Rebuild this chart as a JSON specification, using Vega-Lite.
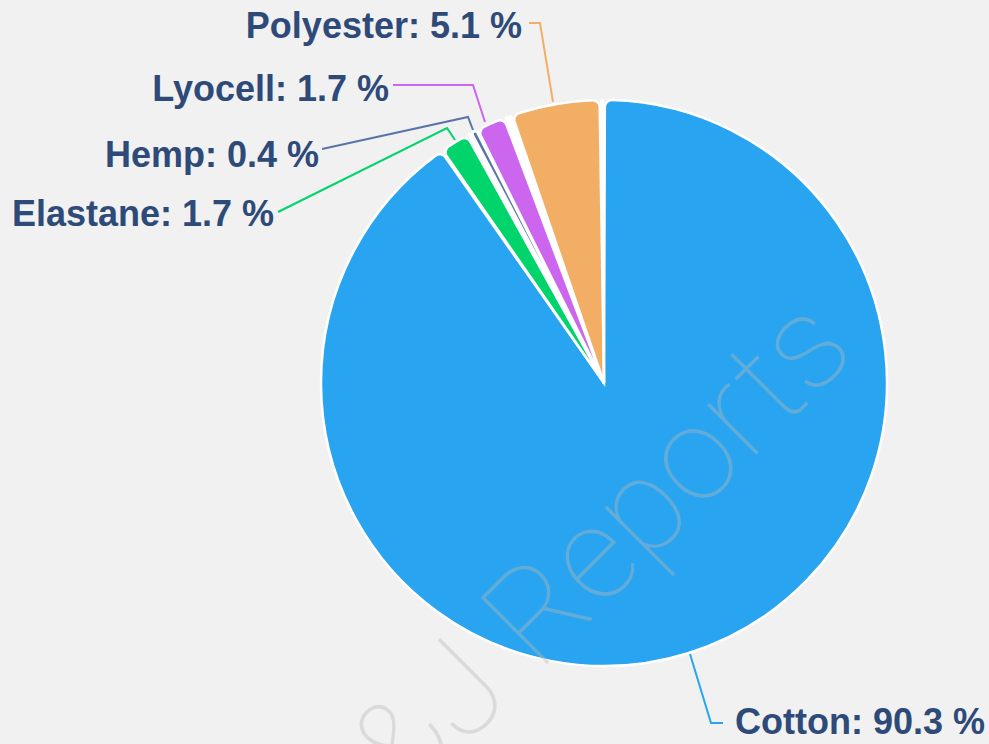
{
  "$schema": "https://vega.github.io/schema/vega-lite/v6.json",
  "width": 989,
  "height": 744,
  "autosize": "none",
  "padding": 0,
  "background": "#f1f1f2",
  "config": {"view": {"stroke": null}},
  "datasets": {
    "slices": [
      {"k": 1, "fibre": "Cotton", "share": 90.3},
      {"k": 2, "fibre": "Elastane", "share": 1.7},
      {"k": 3, "fibre": "Other A", "share": 0.2},
      {"k": 4, "fibre": "Hemp", "share": 0.4},
      {"k": 5, "fibre": "Lyocell", "share": 1.7},
      {"k": 6, "fibre": "Other B", "share": 0.2},
      {"k": 7, "fibre": "Other C", "share": 0.2},
      {"k": 8, "fibre": "Polyester", "share": 5.1},
      {"k": 9, "fibre": "Other D", "share": 0.2}
    ],
    "labels": [
      {"fibre": "Polyester", "text": "Polyester: 5.1 %", "side": "left", "lx": -82, "ly": 345},
      {"fibre": "Lyocell", "text": "Lyocell: 1.7 %", "side": "left", "lx": -215, "ly": 282},
      {"fibre": "Hemp", "text": "Hemp: 0.4 %", "side": "left", "lx": -285, "ly": 216},
      {"fibre": "Elastane", "text": "Elastane: 1.7 %", "side": "left", "lx": -330, "ly": 157},
      {"fibre": "Cotton", "text": "Cotton: 90.3 %", "side": "right", "lx": 131, "ly": -351}
    ],
    "leaders": [
      {"fibre": "Polyester", "seq": 1, "px": -75, "py": 360},
      {"fibre": "Polyester", "seq": 2, "px": -64, "py": 360},
      {"fibre": "Polyester", "seq": 3, "px": -51, "py": 281},
      {"fibre": "Lyocell", "seq": 1, "px": -211, "py": 298},
      {"fibre": "Lyocell", "seq": 2, "px": -131, "py": 298},
      {"fibre": "Lyocell", "seq": 3, "px": -119, "py": 261},
      {"fibre": "Hemp", "seq": 1, "px": -282, "py": 234},
      {"fibre": "Hemp", "seq": 2, "px": -136, "py": 266},
      {"fibre": "Hemp", "seq": 3, "px": -131, "py": 253},
      {"fibre": "Elastane", "seq": 1, "px": -326, "py": 171},
      {"fibre": "Elastane", "seq": 2, "px": -157, "py": 255},
      {"fibre": "Elastane", "seq": 3, "px": -149, "py": 243},
      {"fibre": "Cotton", "seq": 1, "px": 86, "py": -271},
      {"fibre": "Cotton", "seq": 2, "px": 107, "py": -340},
      {"fibre": "Cotton", "seq": 3, "px": 119, "py": -340}
    ],
    "mark": [
      {"text": "Q&J Reports", "wx": 254, "wy": 30}
    ]
  },
  "layer": [
    {
      "data": {"name": "slices"},
      "mark": {"type": "arc", "outerRadius": 283, "cornerRadius": 7, "padAngle": 0.006, "stroke": "#ffffff", "strokeWidth": 2.5},
      "encoding": {
        "theta": {"field": "share", "type": "quantitative", "stack": true},
        "order": {"field": "k", "type": "quantitative"},
        "color": {
          "field": "fibre",
          "type": "nominal",
          "scale": {
            "domain": ["Cotton", "Elastane", "Other A", "Hemp", "Lyocell", "Other B", "Other C", "Polyester", "Other D"],
            "range": ["#29a4f0", "#00d46a", "#ff6a3d", "#5b74a8", "#cd66ee", "#f7a1ae", "#80dccd", "#f3ae66", "#80dccd"]
          },
          "legend": null
        },
        "x": {"datum": 0, "type": "quantitative", "scale": {"domain": [-604, 385], "nice": false, "zero": false}, "axis": null},
        "y": {"datum": 0, "type": "quantitative", "scale": {"domain": [-361, 383], "nice": false, "zero": false}, "axis": null}
      }
    },
    {
      "data": {"name": "mark"},
      "mark": {"type": "text", "font": "Roboto", "fontWeight": 100, "fontSize": 132, "angle": -45, "align": "right", "baseline": "alphabetic", "fill": "#b8b8b8", "opacity": 0.4},
      "encoding": {
        "text": {"field": "text"},
        "x": {"field": "wx", "type": "quantitative"},
        "y": {"field": "wy", "type": "quantitative"}
      }
    },
    {
      "data": {"name": "leaders"},
      "mark": {"type": "line", "strokeWidth": 2, "interpolate": "linear"},
      "encoding": {
        "x": {"field": "px", "type": "quantitative"},
        "y": {"field": "py", "type": "quantitative"},
        "color": {"field": "fibre", "type": "nominal", "legend": null},
        "order": {"field": "seq", "type": "quantitative"}
      }
    },
    {
      "data": {"name": "labels"},
      "transform": [{"filter": "datum.side == 'left'"}],
      "mark": {"type": "text", "font": "Liberation Sans", "fontWeight": "bold", "fontSize": 36, "align": "right", "baseline": "alphabetic", "fill": "#2e4a78"},
      "encoding": {
        "text": {"field": "text"},
        "x": {"field": "lx", "type": "quantitative"},
        "y": {"field": "ly", "type": "quantitative"}
      }
    },
    {
      "data": {"name": "labels"},
      "transform": [{"filter": "datum.side == 'right'"}],
      "mark": {"type": "text", "font": "Liberation Sans", "fontWeight": "bold", "fontSize": 36, "align": "left", "baseline": "alphabetic", "fill": "#2e4a78"},
      "encoding": {
        "text": {"field": "text"},
        "x": {"field": "lx", "type": "quantitative"},
        "y": {"field": "ly", "type": "quantitative"}
      }
    }
  ]
}
